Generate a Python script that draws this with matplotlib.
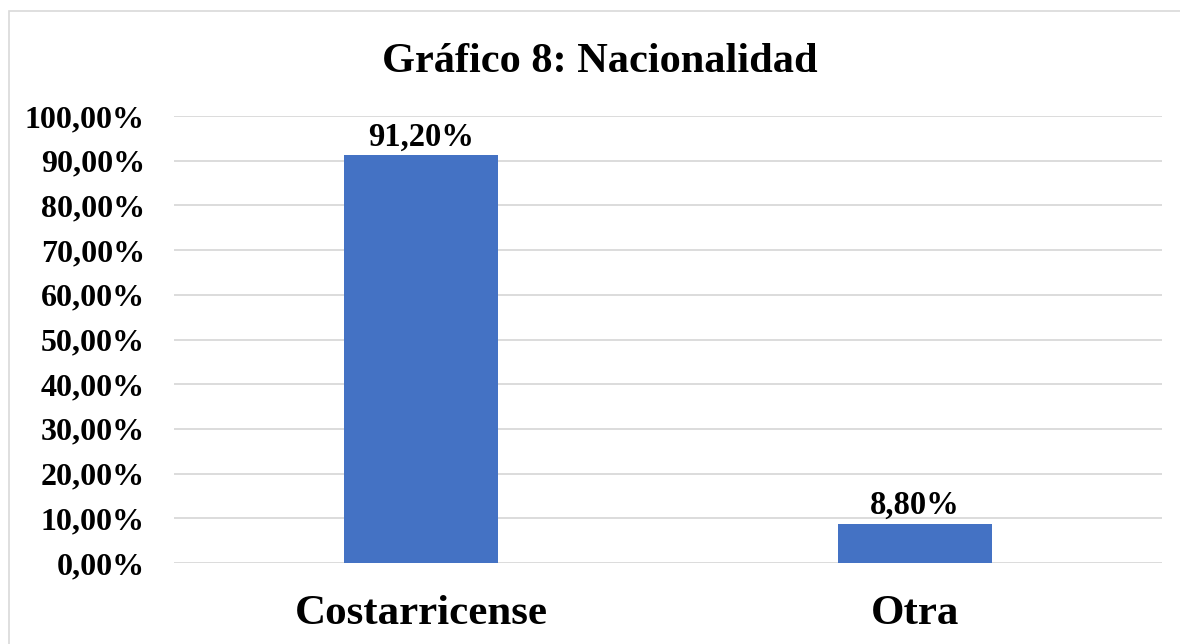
import matplotlib
matplotlib.use('Agg')
import matplotlib.pyplot as plt
from matplotlib.patches import Rectangle
from matplotlib.ticker import FuncFormatter

categories = ['Costarricense', 'Otra']
values = [0.912, 0.088]
value_labels = ['91,20%', '8,80%']
yticks = [0.0, 0.1, 0.2, 0.3, 0.4, 0.5, 0.6, 0.7, 0.8, 0.9, 1.0]

plt.rcParams['font.family'] = ['Liberation Serif', 'DejaVu Serif']
plt.rcParams['font.weight'] = 'bold'

fig = plt.figure(figsize=(11.8, 6.44), dpi=100)

# light frame around the chart (Excel style), right and bottom edges run off the image
fig.patches.append(Rectangle((9 / 1180, -0.02), 1.1, 1 - 11 / 644 + 0.02,
                             transform=fig.transFigure, fill=False,
                             edgecolor='#D9D9D9', linewidth=1.2))

ax = fig.add_axes([174 / 1180, 1 - 563 / 644, 988 / 1180, 447 / 644])

x = range(len(categories))
bars = ax.bar(x, values, width=0.312, color='#4472C4', zorder=3)

for bar, lab in zip(bars, value_labels):
    ax.text(bar.get_x() + bar.get_width() / 2, bar.get_height() + 0.022, lab,
            ha='center', va='baseline', fontsize=23.5, fontweight='bold')

ax.set_xlim(-0.5, 1.5)
ax.set_ylim(0, 1.0)
ax.set_yticks(yticks)
ax.yaxis.set_major_formatter(FuncFormatter(lambda v, p: f'{v * 100:.2f}'.replace('.', ',') + '%'))
ax.set_xticks(list(x))
ax.set_xticklabels(categories, fontsize=31, fontweight='bold')
ax.tick_params(axis='y', labelsize=23, length=0, pad=21)
ax.tick_params(axis='x', length=0, pad=23)
ax.grid(axis='y', color='#D9D9D9', linewidth=1.3, zorder=0)
for s in ax.spines.values():
    s.set_visible(False)

fig.text(600 / 1180, 1 - 72 / 644, 'Gráfico 8: Nacionalidad', ha='center', va='baseline',
         fontsize=30.5, fontweight='bold')

fig.savefig('out.png', dpi=100)
